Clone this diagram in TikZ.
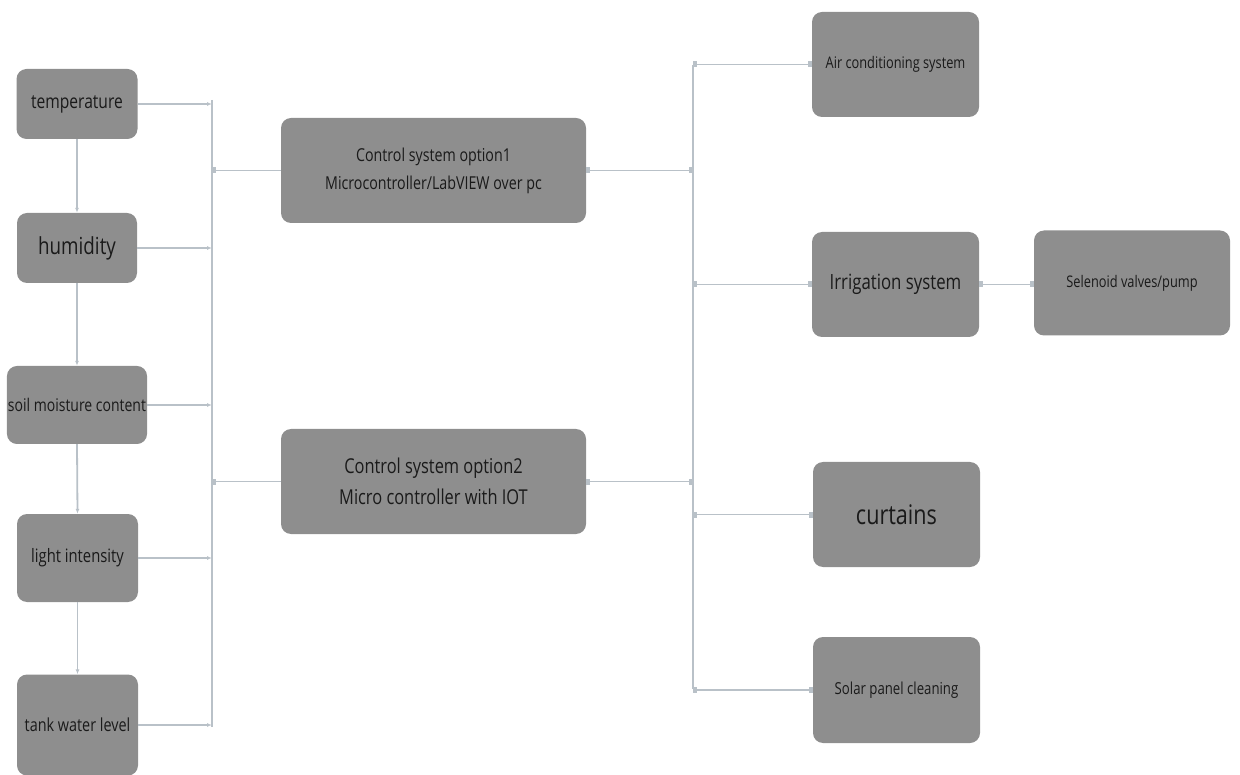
\documentclass[tikz,border=0pt]{standalone}
\usepackage{fontspec}
\setmainfont[FakeStretch=0.8]{Open Sans}
\usetikzlibrary{arrows.meta}
\definecolor{boxgray}{HTML}{8E8E8E}
\definecolor{linegray}{HTML}{B9C1C8}
\definecolor{txt}{HTML}{1A1A1A}
\tikzset{
  box/.style={draw=none, fill=boxgray, rounded corners=10pt, text=txt, align=center, inner sep=1pt},
  conn/.style={draw=linegray, line width=1.8pt},
  tipA/.style={-{Latex[length=5pt,width=4pt]}},
  sqq/.style={{Square[length=4pt,width=6pt]}-{Square[length=4pt,width=6pt]}},
  sqe/.style={-{Square[length=4pt,width=6pt]}},
  osq/.style={-{Square[open,length=4pt,width=6pt,fill=white]}}
}
\begin{document}
\begin{tikzpicture}[x=1pt,y=-1pt]
\useasboundingbox (0,0) rectangle (1240,775);
% left column
\node[box, minimum width=121pt, minimum height=70pt, font=\fontsize{19.5}{22}\selectfont] (temp) at (77,104) {temperature};
\node[box, minimum width=120pt, minimum height=70pt, font=\fontsize{23.5}{26}\selectfont] (hum) at (77,248) {humidity};
\node[box, minimum width=140pt, minimum height=78pt, font=\fontsize{17.5}{20}\selectfont] (soil) at (77,405) {soil moisture content};
\node[box, minimum width=121pt, minimum height=88pt, font=\fontsize{18.5}{21}\selectfont] (light) at (77.5,558) {light intensity};
\node[box, minimum width=121pt, minimum height=101pt, font=\fontsize{18}{21}\selectfont] (tank) at (77.5,725) {tank water level};
% centre
\node[box, minimum width=305pt, minimum height=105pt, font=\fontsize{17.8}{28}\selectfont] (c1) at (433.5,170.5) {Control system option1\\Microcontroller/LabVIEW over pc};
\node[box, minimum width=305pt, minimum height=105pt, font=\fontsize{20.5}{31}\selectfont] (c2) at (433.5,481.5) {Control system option2\\Micro controller with IOT};
% right
\node[box, minimum width=167pt, minimum height=105pt, font=\fontsize{16}{19}\selectfont] (ac) at (895.5,64.5) {Air conditioning system};
\node[box, minimum width=167pt, minimum height=105pt, font=\fontsize{21}{24}\selectfont] (irr) at (895.5,284.5) {Irrigation system};
\node[box, minimum width=196pt, minimum height=105pt, font=\fontsize{16}{19}\selectfont] (sel) at (1132,283) {Selenoid valves/pump};
\node[box, minimum width=167pt, minimum height=105pt, font=\fontsize{27}{30}\selectfont] (cur) at (896.5,514.5) {curtains};
\node[box, minimum width=167pt, minimum height=106pt, font=\fontsize{16.5}{19}\selectfont] (sol) at (896.5,690) {Solar panel cleaning};
% bus coordinates
\coordinate (bl) at (212,0);
\coordinate (blt) at (212,100);
\coordinate (blb) at (212,727);
\coordinate (br) at (693,0);
\coordinate (brt) at (693,65);
\coordinate (brb) at (693,689);
% left vertical arrows
\draw[conn, tipA] (temp.south) -- (hum.north);
\draw[conn, tipA] (hum.south) -- (soil.north);
\draw[conn, tipA] (soil.south) -- (light.north);
\draw[conn, tipA] (light.south) -- (tank.north);
% left bus
\draw[conn] (blt) -- (blb);
\draw[conn, tipA] (temp.east) -- (temp.east -| bl);
\draw[conn, tipA] (hum.east) -- (hum.east -| bl);
\draw[conn, tipA] (soil.east) -- (soil.east -| bl);
\draw[conn, tipA] (light.east) -- (light.east -| bl);
\draw[conn, tipA] (tank.east) -- (tank.east -| bl);
\draw[conn, osq] (c1.west) -- (c1.west -| bl);
\draw[conn, sqe] (c2.west) -- (c2.west -| bl);
% right bus
\draw[conn] (brt) -- (brb);
\draw[conn, sqq] (c1.east) -- (c1.east -| br);
\draw[conn, sqq] (c2.east) -- (c2.east -| br);
\draw[conn, sqq] (ac.west -| br) -- (ac.west);
\draw[conn, sqq] (irr.west -| br) -- (irr.west);
\draw[conn, sqq] (cur.west -| br) -- (cur.west);
\draw[conn, sqq] (sol.west -| br) -- (sol.west);
\draw[conn, sqq] (irr.east) -- (irr.east -| sel.west);
\end{tikzpicture}
\end{document}
